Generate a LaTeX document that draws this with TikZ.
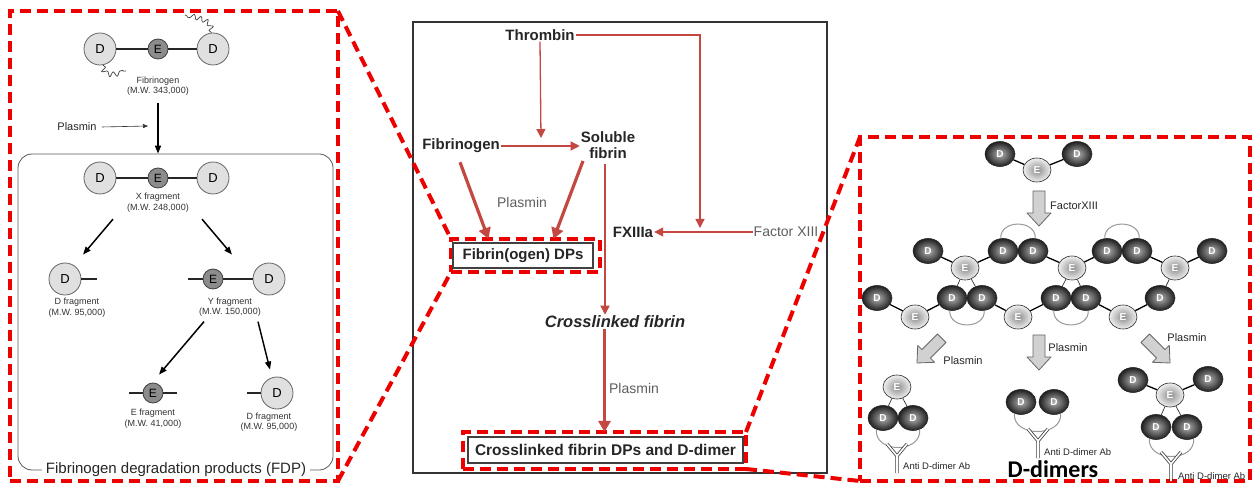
\documentclass[tikz,border=0pt]{standalone}
\usepackage{fontspec}
\setmainfont{Liberation Sans}
\newfontfamily\calibrifont{Carlito}
\usetikzlibrary{shapes.geometric,arrows.meta,decorations.pathmorphing,calc}

\definecolor{boxred}{RGB}{236,0,0}
\definecolor{pathred}{RGB}{196,72,66}
\definecolor{txtgray}{RGB}{95,95,95}

\tikzset{
  zoomframe/.style={draw=boxred, line width=4pt, dash pattern=on 11pt off 6pt, inner sep=0pt, outer sep=0pt},
  zoomline/.style={draw=boxred, line width=4pt, dash pattern=on 11pt off 6pt},
  cbold/.style={font=\fontsize{15}{16.5}\selectfont\bfseries, text=black!85, align=center, inner sep=1pt},
  cplain/.style={font=\fontsize{14}{16}\selectfont, text=txtgray, inner sep=1pt},
  thinred/.style={draw=pathred, line width=1.3pt, -{Triangle[length=9pt,width=9pt]}},
  thickred/.style={draw=pathred, line width=3.2pt, -{Triangle[length=11pt,width=12pt]}},
  dpbox/.style={draw=black!75, line width=1.2pt, fill=white, inner sep=0pt, outer sep=0pt, font=\fontsize{15}{16}\selectfont\bfseries, text=black!85},
  lD/.style={circle, draw=black!60, fill=black!12, line width=0.8pt, minimum size=32pt, inner sep=0pt, font=\fontsize{13}{13}\selectfont},
  lE/.style={circle, draw=black!75, fill=black!45, line width=0.8pt, minimum size=20pt, inner sep=0pt, font=\fontsize{12}{12}\selectfont},
  lbond/.style={draw=black!85, line width=1.2pt},
  lcap/.style={font=\fontsize{9}{10.5}\selectfont, text=black!80, align=center, inner sep=1pt},
  larrow/.style={draw=black, line width=1.5pt, -{Triangle[length=8pt,width=6pt]}},
  squiggle/.style={draw=black!75, line width=0.7pt, decorate, decoration={snake, amplitude=2.4pt, segment length=7pt}},
  rD/.style={ellipse, draw=black!85, line width=0.6pt, minimum width=30pt, minimum height=25pt, inner sep=0pt,
             inner color=black!30, outer color=black!88, font=\fontsize{10}{10}\selectfont\bfseries, text=white},
  rE/.style={ellipse, draw=black!85, line width=0.6pt, minimum width=28pt, minimum height=24pt, inner sep=0pt,
             inner color=black!45, outer color=black!6, font=\fontsize{10}{10}\selectfont\bfseries, text=white},
  rbond/.style={draw=black, line width=1.3pt},
  rthin/.style={draw=black!80, line width=0.7pt},
  rloop/.style={draw=black!40, line width=1pt},
  rlabel/.style={font=\fontsize{11}{12}\selectfont, text=black!85, inner sep=1pt},
  ablabel/.style={font=\fontsize{9.5}{10}\selectfont, text=black!85, inner sep=1pt},
  fatarrow/.pic={
    \draw[draw=black!60, fill=black!18, line width=0.8pt, line join=round]
      (0,0) -- (-12,-13) -- (-6,-13) -- (-6,-35) -- (6,-35) -- (6,-13) -- (12,-13) -- cycle;
  },
  antibody/.pic={
    \draw[draw=black!75, double=white, double distance=1.6pt, line width=0.8pt]
      (-10,-12) -- (0,0) -- (10,-12) (0,0) -- (0,17);
  }
}

\begin{document}
\begin{tikzpicture}[x=1pt,y=-1pt]
\fill[white] (0,0) rectangle (1254,486);
\useasboundingbox (0,0) rectangle (1254,486);

% ---------------- left panel: fibrinogen degradation ----------------
\node[draw=black!65, line width=0.8pt, rounded corners=14pt, minimum width=315pt, minimum height=316pt, inner sep=0pt] (fdpbox) at (175.5,312) {};
\node[fill=white, inner xsep=4pt, inner ysep=1pt, font=\fontsize{15}{16}\selectfont, text=black!85] (fdplabel) at (176,470) {Fibrinogen degradation products (FDP)};

% fibrinogen
\node[lD] (fgD1) at (100,49) {D};
\node[lE] (fgE) at (158,49) {E};
\node[lD] (fgD2) at (213,49) {D};
\draw[lbond] (fgD1) -- (fgE) -- (fgD2);
\coordinate (tailA) at (126,71);
\coordinate (tailB) at (185,15);
\draw[squiggle] (fgD1.-80) .. controls (104,76) and (112,72) .. (tailA);
\draw[squiggle] (fgD2.95) .. controls (211,20) and (200,22) .. (tailB);
\node[lcap] (fgcap) at (158,86) {Fibrinogen\\(M.W. 343,000)};

\draw[larrow] ($(fgcap.south)+(0,6)$) -- (fgcap.south |- fdpbox.north);
\node[font=\fontsize{11}{12}\selectfont, text=black!85, inner sep=1pt] (lplasmin) at (77,127) {Plasmin};
\coordinate (lplend) at (148,126);
\draw[draw=black!80, line width=0.6pt, -{Triangle[length=5pt,width=4pt]}] (lplasmin.east) ++(4,0) -- (lplend);

% X fragment
\node[lD] (xD1) at (100,178) {D};
\node[lE] (xE) at (158,178) {E};
\node[lD] (xD2) at (213,178) {D};
\draw[lbond] (xD1) -- (xE) -- (xD2);
\node[lcap] (xcap) at (158,202.5) {X fragment\\(M.W. 248,000)};

% D fragment
\node[lD] (dfD) at (65,279) {D};
\draw[lbond] (dfD.east) -- ++(16,0);
\node[lcap] (dfcap) at (77,307.5) {D fragment\\(M.W. 95,000)};

% Y fragment
\node[lE] (yfE) at (213,279) {E};
\node[lD] (yfD) at (269,279) {D};
\draw[lbond] (yfE.west) -- ++(-15,0);
\draw[lbond] (yfE) -- (yfD);
\node[lcap] (yfcap) at (230,307) {Y fragment\\(M.W. 150,000)};

% E fragment
\node[lE] (efE) at (153,393) {E};
\draw[lbond] (efE.west) -- ++(-14,0);
\draw[lbond] (efE.east) -- ++(14,0);
\node[lcap] (efcap) at (153,418.5) {E fragment\\(M.W. 41,000)};

% second D fragment
\node[lD] (df2D) at (277,393) {D};
\draw[lbond] (df2D.west) -- ++(-14,0);
\node[lcap] (df2cap) at (269,422) {D fragment\\(M.W. 95,000)};

\draw[larrow] ($(xcap.south)+(-45,6)$) -- ($(dfD.north)+(18,-8)$);
\draw[larrow] ($(xcap.south)+(44,6)$) -- ($(yfE.north)+(19,-14)$);
\draw[larrow] ($(yfcap.south)+(-26,4)$) -- ($(efE.north)+(6,-8)$);
\draw[larrow] ($(yfcap.south)+(28,4)$) -- ($(df2D.north)+(-7,-7)$);

% ---------------- centre panel: pathway ----------------
\node[draw=black!80, line width=1.2pt, minimum width=414pt, minimum height=451pt, inner sep=0pt, outer sep=0pt] (cbox) at (620,247.5) {};

\node[cbold] (thrombin) at (540,35) {Thrombin};
\node[cbold] (fibrinogen) at (461,146) {Fibrinogen};
\node[cbold] (solfib) at (608,145) {Soluble\\fibrin};
\node[cbold] (fxiiia) at (633,232) {FXIIIa};
\node[cplain] (factorxiii) at (786,232) {Factor XIII};
\node[cplain] (plasminA) at (522,202) {Plasmin};
\node[font=\fontsize{16.5}{18}\selectfont\bfseries\itshape, text=black!85, inner sep=1pt] (xlfib) at (615,322) {Crosslinked fibrin};
\node[cplain] (plasminB) at (634,388) {Plasmin};

\node[zoomframe, minimum width=149pt, minimum height=33pt] (dp1frame) at (525.5,255.5) {};
\node[dpbox, minimum width=140pt, minimum height=25pt] (dp1) at (523,255.5) {Fibrin(ogen) DPs};
\node[zoomframe, minimum width=283pt, minimum height=37pt] (dp2frame) at (604.5,450.5) {};
\node[dpbox, minimum width=275pt, minimum height=26pt, font=\fontsize{15.5}{16}\selectfont\bfseries] (dp2) at (605.5,450) {Crosslinked fibrin DPs and D-dimer};

\coordinate (conv) at (541,138);
\coordinate (xiiijoin) at (700,228);
\draw[thinred] (thrombin.south) -- (conv);
\draw[thinred] (fibrinogen.east) -- (fibrinogen.east -| solfib.west);
\draw[thinred] (thrombin.east) -| (xiiijoin);
\draw[thinred] (factorxiii.west) -- (fxiiia.east);
\draw[thinred] ($(solfib.south)+(-3,4)$) coordinate (sfb) -- (sfb |- xlfib.north);
\draw[thickred] ($(fibrinogen.south)+(-1,8)$) -- ($(dp1frame.north)+(-37,0)$);
\draw[thickred] ($(solfib.south)+(-25,1)$) -- ($(dp1frame.north)+(28,0)$);
\draw[thickred] (xlfib.south -| dp2frame.north) -- (dp2frame.north);

% ---------------- right panel: crosslinked fibrin and D-dimers ----------------
\node[zoomframe, minimum width=390pt, minimum height=344pt] (rframe) at (1055,309) {};

% fibrin monomer
\node[rD] (tD1) at (1000,154) {D};
\node[rE] (tE) at (1037,170) {E};
\node[rD] (tD2) at (1077,154) {D};
\draw[rbond] (tD1) -- (tE) -- (tD2);

\pic (fxarrow) at (1039,226) {fatarrow};
\node[rlabel, anchor=west] (fxlabel) at (1049,206) {FactorXIII};

% crosslinked network
\node[rD] (nD1) at (928,251) {D};
\node[rD] (nD2) at (1003,251) {D};
\node[rD] (nD3) at (1033,251) {D};
\node[rD] (nD4) at (1107,251) {D};
\node[rD] (nD5) at (1137,251) {D};
\node[rD] (nD6) at (1212,251) {D};
\node[rE] (nE1) at (965,268) {E};
\node[rE] (nE2) at (1072,268) {E};
\node[rE] (nE3) at (1175,268) {E};
\node[rD] (mD0) at (877,298) {D};
\node[rD] (mD1) at (952,298) {D};
\node[rD] (mD2) at (982,298) {D};
\node[rD] (mD3) at (1056,298) {D};
\node[rD] (mD4) at (1086,298) {D};
\node[rD] (mD5) at (1160,298) {D};
\node[rE] (bE1) at (915,317) {E};
\node[rE] (bE2) at (1018,317) {E};
\node[rE] (bE3) at (1123,317) {E};

\draw[rbond] (nD1) -- (nE1) -- (nD2);
\draw[rbond] (nD3) -- (nE2) -- (nD4);
\draw[rbond] (nD5) -- (nE3) -- (nD6);
\draw[rbond] (mD0) -- (bE1) -- (mD1);
\draw[rbond] (mD2) -- (bE2) -- (mD3);
\draw[rbond] (mD4) -- (bE3) -- (mD5);
\draw[rthin] (nE1) -- (mD1);
\draw[rthin] (nE1) -- (mD2);
\draw[rthin] (nE2) -- (mD3);
\draw[rthin] (nE2) -- (mD4);
\draw[rthin] (nE3) -- (mD5);
\draw[rloop] (nD2.100) .. controls +(-1,-19) and +(1,-19) .. (nD3.80);
\draw[rloop] (nD4.100) .. controls +(-1,-19) and +(1,-19) .. (nD5.80);
\draw[rloop] (mD1.-100) .. controls +(-1,19) and +(1,19) .. (mD2.-80);
\draw[rloop] (mD3.-100) .. controls +(-1,19) and +(1,19) .. (mD4.-80);

% plasmin cleavage arrows
\pic[rotate=-45] (plarrow1) at (917,363) {fatarrow};
\pic (plarrow2) at (1039,370) {fatarrow};
\pic[rotate=45] (plarrow3) at (1170,363) {fatarrow};
\node[rlabel] (pl1) at (963,361) {Plasmin};
\node[rlabel] (pl2) at (1068,348) {Plasmin};
\node[rlabel] (pl3) at (1187,338) {Plasmin};

% D-dimer products
\node[rE] (aE) at (897,387) {E};
\node[rD] (aD1) at (883,418) {D};
\node[rD] (aD2) at (913,418) {D};
\draw[rthin] (aE) -- (aD1);
\draw[rthin] (aE) -- (aD2);
\draw[rloop] (aD1.-120) .. controls +(-2,24) and +(2,24) .. (aD2.-60);
\pic (ab1) at (897,456) {antibody};
\node[ablabel, anchor=west] (ab1label) at (902,466) {Anti D-dimer Ab};

\node[rD] (cD1) at (1021,402) {D};
\node[rD] (cD2) at (1054,402) {D};
\draw[rloop] (cD1.-120) .. controls +(-2,24) and +(2,24) .. (cD2.-60);
\pic (ab2) at (1038,441) {antibody};
\node[ablabel, anchor=west] (ab2label) at (1043,452) {Anti D-dimer Ab};
\node[font=\calibrifont\bfseries\fontsize{24}{26}\selectfont, text=black, inner sep=1pt] (ddimers) at (1053,469) {D-dimers};

\node[rD] (dD1) at (1133,380) {D};
\node[rE] (dE) at (1170,395) {E};
\node[rD] (dD2) at (1208,379) {D};
\node[rD] (dD3) at (1156,427) {D};
\node[rD] (dD4) at (1187,427) {D};
\draw[rbond] (dD1) -- (dE) -- (dD2);
\draw[rthin] (dE) -- (dD3);
\draw[rthin] (dE) -- (dD4);
\draw[rloop] (dD3.-120) .. controls +(-2,24) and +(2,24) .. (dD4.-60);
\pic (ab3) at (1171,464) {antibody};
\node[ablabel, anchor=west] (ab3label) at (1177,476) {Anti D-dimer Ab};

% ---------------- zoom connectors ----------------
\node[zoomframe, minimum width=328pt, minimum height=470pt] (lframe) at (174,246) {};
\draw[zoomline] (lframe.north east) -- (dp1frame.north west);
\draw[zoomline] (lframe.south east) -- (dp1frame.south west);
\draw[zoomline] (dp2frame.north east) -- (rframe.north west);
\draw[zoomline] (dp2frame.south east) -- (rframe.south west);
\end{tikzpicture}
\end{document}
